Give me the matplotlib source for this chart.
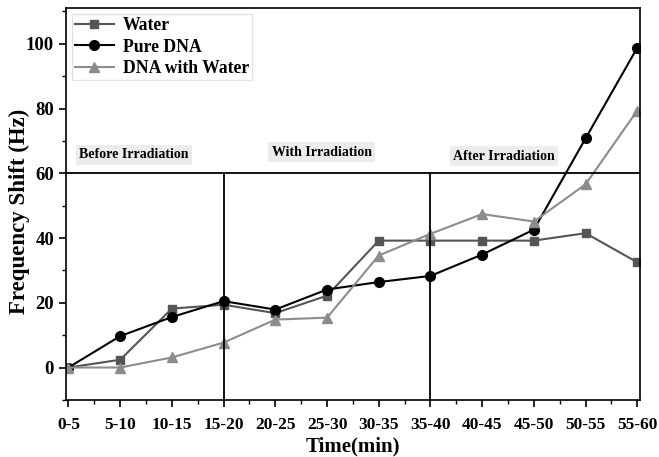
import numpy as np
import matplotlib
matplotlib.use("Agg")
import matplotlib.pyplot as plt

plt.rcParams['font.family'] = ['Liberation Serif', 'DejaVu Serif']
plt.rcParams['font.weight'] = 'bold'

time_labels = ["0-5", "5-10", "10-15", "15-20", "20-25", "25-30",
               "30-35", "35-40", "40-45", "45-50", "50-55", "55-60"]
water = [0, 2.4, 18.2, 19.4, 16.8, 22.2, 39.2, 39.2, 39.2, 39.2, 41.5, 32.5]
pure_dna = [0, 9.7, 15.6, 20.5, 17.9, 24.1, 26.4, 28.3, 34.9, 42.6, 70.8, 98.8]
dna_water = [0, 0, 3.1, 7.7, 14.8, 15.4, 34.6, 41.3, 47.4, 45.1, 56.6, 79.4]

phase_names = ["Before Irradiation", "With Irradiation", "After Irradiation"]
phase_x = [1.27, 4.9, 8.42]
phase_y = [65.8, 66.5, 65.2]
phase_bounds = [3, 7]
level = 60

x = np.arange(len(time_labels))

fig = plt.figure(figsize=(6.59, 4.57), dpi=100)
ax = fig.add_axes([0.100, 0.125, 0.871, 0.857])

ax.plot(x, water, color='#555555', marker='s', markersize=6, linewidth=1.5, label='Water')
ax.plot(x, pure_dna, color='black', marker='o', markersize=7, linewidth=1.5, label='Pure DNA')
ax.plot(x, dna_water, color='#8c8c8c', marker='^', markersize=7, linewidth=1.5, label='DNA with Water')

ymin, ymax = -10, 111
ax.set_xlim(-0.05, 11.05)
ax.set_ylim(ymin, ymax)

# phase separators
ax.axhline(level, color='black', linewidth=1.3)
ax.vlines(phase_bounds, ymin, level, color='black', linewidth=1.3)

for name, px, py in zip(phase_names, phase_x, phase_y):
    ax.text(px, py, name, ha='center', va='center', fontsize=10, fontweight='bold',
            bbox=dict(facecolor='#ececec', edgecolor='none', pad=2.5))

ax.set_xticks(x)
ax.set_xticklabels(time_labels, fontsize=12.5, fontweight='bold')
ax.set_xticks(x[:-1] + 0.5, minor=True)
ax.set_yticks([0, 20, 40, 60, 80, 100])
ax.set_yticks([-10, 10, 30, 50, 70, 90, 110], minor=True)
ax.tick_params(axis='y', labelsize=13.5)
for lab in ax.get_yticklabels():
    lab.set_fontweight('bold')
ax.tick_params(which='major', direction='out', length=5, width=1.2)
ax.tick_params(axis='x', which='major', pad=7)
ax.tick_params(which='minor', direction='out', length=3, width=1.0)
for sp in ax.spines.values():
    sp.set_linewidth(1.2)

ax.set_xlabel('Time(min)', fontsize=15, fontweight='bold', labelpad=3)
ax.set_ylabel('Frequency Shift (Hz)', fontsize=16.5, fontweight='bold')
ax.yaxis.set_label_coords(-0.062, 0.482)

leg = ax.legend(loc='upper left', fontsize=12.7, frameon=True, fancybox=False,
                handlelength=2.2, borderpad=0.15, labelspacing=0.26,
                handletextpad=0.55, borderaxespad=0.35)
leg.get_frame().set_edgecolor('#dddddd')
leg.get_frame().set_linewidth(1.0)
for t in leg.get_texts():
    t.set_fontweight('bold')

fig.savefig('out.png', dpi=100)
